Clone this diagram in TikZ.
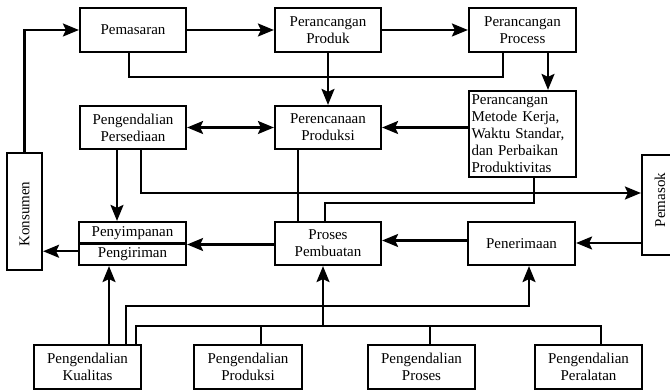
\documentclass[tikz,border=0pt]{standalone}
\usepackage{fontspec}
\setmainfont{Liberation Serif}
\usetikzlibrary{arrows.meta,calc}
\begin{document}
\begin{tikzpicture}[x=1pt,y=-1pt,
  box/.style={draw, line width=2.2pt, minimum width=106pt, minimum height=44pt,
    inner sep=1pt, align=center, font=\fontsize{15}{17}\selectfont},
  vlabel/.style={inner sep=0pt, rotate=90, font=\fontsize{15}{17}\selectfont},
  link/.style={line width=2.2pt},
  arr/.style={link, -{Stealth[length=16pt,width=13pt,inset=3pt]}},
  arrboth/.style={link, {Stealth[length=16pt,width=13pt,inset=3pt]}-{Stealth[length=16pt,width=13pt,inset=3pt]}}]
\useasboundingbox (0,0) rectangle (670,390);

% top row
\node[box] (pem)  at (133,30)   {Pemasaran};
\node[box] (prod) at (328,30)   {Perancangan\\Produk};
\node[box, minimum width=107pt] (proc) at (522.5,30) {Perancangan\\Process};

% second row
\node[box, minimum height=43pt] (pers) at (133,127.5) {Pengendalian\\Persediaan};
\node[box, minimum height=43pt] (ppc)  at (328,127.5) {Perencanaan\\Produksi};
\node[box, minimum width=107pt, minimum height=86pt, align=left,
      text width=102pt, inner xsep=2.5pt] (met) at (522.5,134)
  {Perancangan\\Metode Kerja,\\Waktu Standar,\\dan Perbaikan\\Produktivitas};

% side boxes
\node[box, minimum width=35pt, minimum height=117pt] (kons) at (24.5,211.5) {};
\node[vlabel] (konsT) at (24.5,214) {Konsumen};
\node[box, minimum width=35pt, minimum height=100pt] (pmsk) at (659.5,205) {};
\node[vlabel] (pmskT) at (660,200) {Pemasok};

% third row
\node[box, minimum width=107pt, minimum height=21.5pt] (simp)  at (132.5,232.75) {Penyimpanan};
\node[box, minimum width=107pt, minimum height=21.5pt] (kirim) at (132.5,254.25) {Pengiriman};
\node[box, minimum height=43pt] (prs) at (328,243.5) {Proses\\Pembuatan};
\node[box, minimum width=107pt, minimum height=43pt] (trm) at (521.5,243.5) {Penerimaan};

% bottom row
\node[box, minimum width=107pt] (kual)  at (87.5,367)  {Pengendalian\\Kualitas};
\node[box, minimum width=108pt] (kprod) at (248,367)   {Pengendalian\\Produksi};
\node[box, minimum width=107pt] (kpros) at (421.5,367) {Pengendalian\\Proses};
\node[box, minimum width=107pt] (kper)  at (588.5,367) {Pengendalian\\Peralatan};

% junction points
\coordinate (j)   at (328,77);
\coordinate (m1)  at (325,203);
\coordinate (q1)  at (529,306);
\coordinate (bus) at (601,326);

% top flows
\draw[arr] (kons.north) |- (pem.west);
\draw[arr] (pem.east) -- (prod.west);
\draw[arr] (prod.east) -- (proc.west);
\draw[link] ([xshift=-4pt]pem.south) |- (j);
\draw[link] ([xshift=-19.5pt]proc.south) |- (j);
\draw[arr] (prod.south) -- (ppc.north);
\draw[arr] ([xshift=25.5pt]proc.south) -- ([xshift=25.5pt]met.north);

% middle flows
\draw[arrboth] (pers.east) -- (ppc.west);
\draw[arr] (met.west |- ppc.east) -- (ppc.east);
\draw[arr] ([xshift=-16pt]pers.south) -- ([xshift=-16pt]pers.south |- simp.north);
\draw[arr] ([xshift=8pt]pers.south) |- ([yshift=12pt]pmsk.west);
\draw[link] ([xshift=-30pt]ppc.south) -- ([xshift=-30pt]ppc.south |- prs.north);
\draw[link] ([xshift=11.5pt]met.south) |- (m1) -- ([xshift=-3pt]prs.north);

% lower flows
\draw[arr] ([yshift=-1pt]prs.west) -- ([yshift=-1pt]prs.west -| simp.east);
\draw[arr] ([yshift=3pt]trm.west) -- ([yshift=3pt]trm.west -| prs.east);
\draw[arr] ([yshift=-38pt]pmsk.west) -- ([yshift=-38pt]pmsk.west -| trm.east);
\draw[arr] ([yshift=3pt]kirim.west) -- ([yshift=3pt]kirim.west -| kons.east);

% control lines
\draw[arr] ([xshift=21.5pt]kual.north) -- ([xshift=21.5pt]kual.north |- kirim.south);
\draw[arr] ([xshift=38.5pt]kual.north) |- (q1) -- (q1 |- trm.south);
\draw[link] ([xshift=48.5pt]kual.north) |- (bus) -- ([xshift=12.5pt]kper.north);
\draw[link] ([xshift=13pt]kprod.north) -- ([xshift=13pt]kprod.north |- bus);
\draw[link] ([xshift=8.5pt]kpros.north) -- ([xshift=8.5pt]kpros.north |- bus);
\draw[arr] ([xshift=-5pt]prs.south |- bus) -- ([xshift=-5pt]prs.south);
\end{tikzpicture}
\end{document}
